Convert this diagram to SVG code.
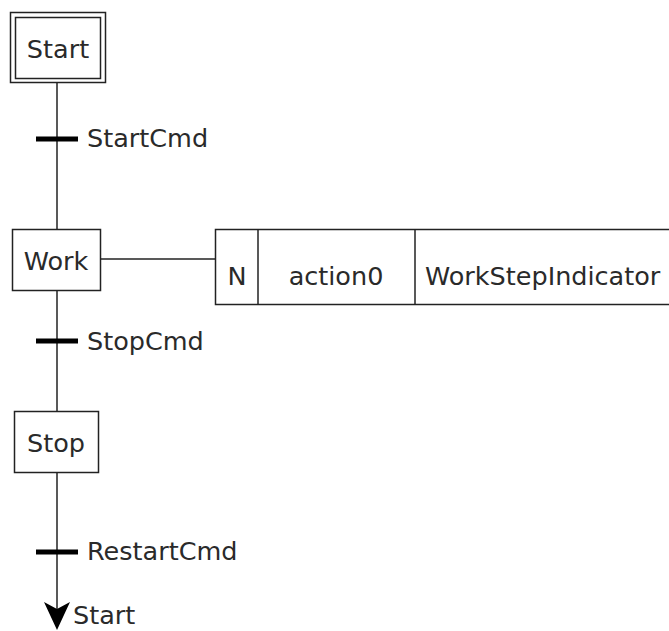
<svg xmlns="http://www.w3.org/2000/svg" width="669" height="631" viewBox="0 0 669 631">
<style>
.box{fill:#fff;stroke:#222;stroke-width:1.5}
.ln{stroke:#222;stroke-width:1.5;fill:none}
.bar{stroke:#000;stroke-width:5}
text{font-family:"DejaVu Sans",sans-serif;font-size:25.5px;fill:#2a2a2a}
.c{text-anchor:middle}
</style>
<rect width="669" height="631" fill="#fff"/>
<g id="connectors">
<line class="ln" x1="57" y1="83" x2="57" y2="229"/>
<line class="ln" x1="57" y1="291" x2="57" y2="411"/>
<line class="ln" x1="57" y1="473" x2="57" y2="615"/>
<line class="ln" x1="101" y1="259" x2="215" y2="259"/>
<path d="M44,602 L57,630 L70,602 L57,609 Z" fill="#000"/>
<text x="73" y="624">Start</text>
</g>
<g id="Start">
<rect class="box" x="10.5" y="12.5" width="95" height="70"/>
<rect class="box" x="15.5" y="17.5" width="85" height="61"/>
<text class="c" x="58" y="58">Start</text>
</g>
<g id="StartCmd">
<line class="bar" x1="36" y1="139" x2="78" y2="139"/>
<text x="87" y="147">StartCmd</text>
</g>
<g id="Work">
<rect class="box" x="12.5" y="229.5" width="88" height="61"/>
<text class="c" x="56" y="270">Work</text>
</g>
<g id="action">
<rect class="box" x="215.5" y="229.5" width="470" height="75"/>
<line class="ln" x1="258" y1="229" x2="258" y2="305"/>
<line class="ln" x1="415" y1="229" x2="415" y2="305"/>
<text class="c" x="237" y="285">N</text>
<text class="c" x="336" y="285">action0</text>
<text x="425" y="285">WorkStepIndicator</text>
</g>
<g id="StopCmd">
<line class="bar" x1="36" y1="341" x2="78" y2="341"/>
<text x="87" y="350">StopCmd</text>
</g>
<g id="Stop">
<rect class="box" x="14.5" y="411.5" width="84" height="61"/>
<text class="c" x="56" y="452">Stop</text>
</g>
<g id="RestartCmd">
<line class="bar" x1="36" y1="552" x2="78" y2="552"/>
<text x="87" y="560">RestartCmd</text>
</g>
</svg>
